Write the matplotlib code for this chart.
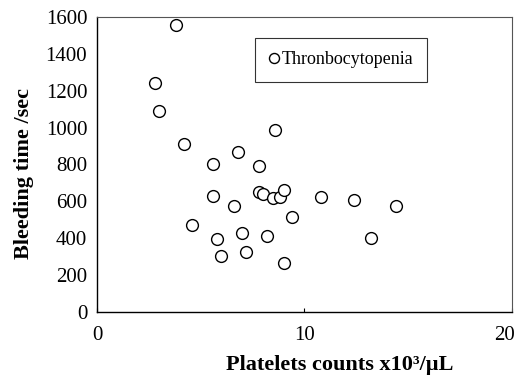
import matplotlib
matplotlib.use("Agg")
import matplotlib.pyplot as plt
from matplotlib.transforms import ScaledTranslation

# platelet counts (x10^3/uL) and bleeding time (sec)
platelets = [3.8, 2.8, 3.0, 4.2, 5.6, 6.8, 7.8, 8.6,
             5.6, 6.6, 4.6, 5.8, 6.0, 7.0, 7.2,
             7.8, 8.0, 8.5, 8.8, 9.0, 9.4, 8.2, 9.0,
             10.8, 12.4, 14.4, 13.2]
bleeding = [1555, 1242, 1090, 911, 803, 868, 790, 987,
            629, 575, 472, 396, 304, 428, 325,
            650, 640, 619, 624, 660, 515, 412, 266,
            623, 607, 575, 401]

xticks = [0, 10, 20]
yticks = [0, 200, 400, 600, 800, 1000, 1200, 1400, 1600]

plt.rcParams['font.family'] = ['Liberation Serif', 'DejaVu Serif']

fig = plt.figure(figsize=(5.2, 3.75), dpi=100)
ax = fig.add_axes([0.1865, 0.168, 0.798, 0.787])

ax.plot(platelets, bleeding, linestyle='none', marker='o', markersize=8.5,
        markerfacecolor='white', markeredgecolor='black', markeredgewidth=1.0,
        label='Thronbocytopenia')

ax.set_xlim(0, 20)
ax.set_ylim(0, 1600)
ax.set_xticks(xticks)
ax.set_yticks(yticks)
ax.tick_params(axis='both', labelsize=15)
ax.tick_params(axis='x', direction='in', length=3, width=0.8, pad=10)
ax.tick_params(axis='y', length=0, pad=7)

# nudge the "20" label left so it stays inside the image
last = ax.get_xticklabels()[-1]
last.set_transform(last.get_transform() + ScaledTranslation(-5/72, 0, fig.dpi_scale_trans))

for side in ['left', 'bottom']:
    ax.spines[side].set_linewidth(1.0)
for side in ['top', 'right']:
    ax.spines[side].set_linewidth(0.8)
    ax.spines[side].set_color('#555555')

ax.set_xlabel('Platelets counts x10³/µL', fontsize=16, fontweight='bold')
ax.set_ylabel('Bleeding time /sec', fontsize=16, fontweight='bold')
ax.xaxis.set_label_coords(0.586, -0.145)
ax.yaxis.set_label_coords(-0.152, 0.47)

leg = ax.legend(loc='upper left', bbox_to_anchor=(0.381, 0.929), borderaxespad=0,
                fontsize=13, frameon=True, fancybox=False, handletextpad=0.15,
                handlelength=0.6, borderpad=0.75, markerscale=0.85)
leg.get_frame().set_edgecolor('black')
leg.get_frame().set_linewidth(0.8)

fig.savefig('out.png', dpi=100)
